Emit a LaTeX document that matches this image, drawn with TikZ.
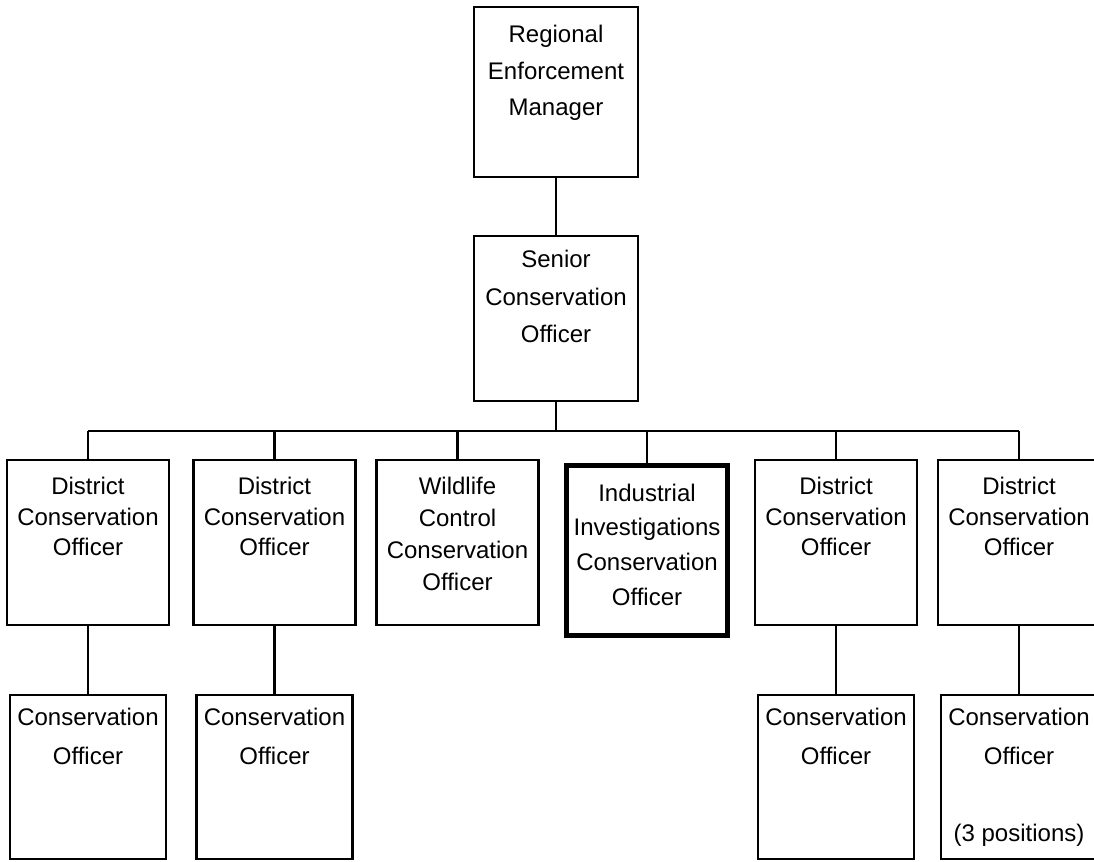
\documentclass[tikz,border=0pt]{standalone}
\usepackage{fontspec}
\setmainfont{Liberation Sans}
\usepackage{tikz}
\usetikzlibrary{positioning}

\tikzset{
    post/.style={draw, line width=2pt, inner sep=0pt, minimum width=121.5pt, minimum height=123.75pt},
    lbl/.style={anchor=north, inner sep=0pt, align=center, yshift=-#1},
    link/.style={line width=2pt}
}

\begin{document}
\begin{tikzpicture}[x=0.75pt,y=0.75pt,yscale=-1,xscale=1]
        \useasboundingbox (0,0) rectangle (1094,861);
        % top of the chart
        \node[post, minimum width=123pt, minimum height=127.5pt,
            label={[lbl=14.5pt, font=\fontsize{18}{27.5}\selectfont]north:{Regional\\Enforcement\\Manager}}] (rem) at (556,92) {};
        \node[post, minimum width=123pt,
            label={[lbl=11.5pt, font=\fontsize{18}{28}\selectfont]north:{Senior\\Conservation\\Officer}}] (sco) at (556,318.5) {};
        \coordinate (bus) at (556,431);
        % second row
        \node[post, label={[lbl=13.5pt, font=\fontsize{18}{23}\selectfont]north:{District\\Conservation\\Officer}}] (dco1) at (88,542.5) {};
        \node[post, label={[lbl=13.5pt, font=\fontsize{18}{23}\selectfont]north:{District\\Conservation\\Officer}}] (dco2) at (274.5,542.5) {};
        \node[post, label={[lbl=13.5pt, font=\fontsize{18}{24}\selectfont]north:{Wildlife\\Control\\Conservation\\Officer}}] (wcco) at (457.5,542.5) {};
        \node[post, line width=4pt, minimum width=120.5pt, minimum height=127.3pt,
            label={[lbl=15.5pt, font=\fontsize{18}{26}\selectfont]north:{Industrial\\Investigations\\Conservation\\Officer}}] (iico) at (647,550.5) {};
        \node[post, label={[lbl=13.5pt, font=\fontsize{18}{23}\selectfont]north:{District\\Conservation\\Officer}}] (dco3) at (836,542.5) {};
        \node[post, label={[lbl=13.5pt, font=\fontsize{18}{23}\selectfont]north:{District\\Conservation\\Officer}}] (dco4) at (1019,542.5) {};
        % third row
        \node[post, minimum width=117pt, minimum height=123pt,
            label={[lbl=10.5pt, font=\fontsize{18}{29}\selectfont]north:{Conservation\\Officer}}] (co1) at (88,777) {};
        \node[post, minimum width=117pt, minimum height=123pt,
            label={[lbl=10.5pt, font=\fontsize{18}{29}\selectfont]north:{Conservation\\Officer}}] (co2) at (274.5,777) {};
        \node[post, minimum width=117pt, minimum height=123pt,
            label={[lbl=10.5pt, font=\fontsize{18}{29}\selectfont]north:{Conservation\\Officer}}] (co3) at (836,777) {};
        \node[post, minimum width=117pt, minimum height=123pt,
            label={[lbl=10.5pt, font=\fontsize{18}{29}\selectfont]north:{Conservation\\Officer\\~\\(3 positions)}}] (co4) at (1019,777) {};
        % connectors
        \draw[link] (rem) -- (sco);
        \draw[link] (sco) -- (bus);
        \draw[link] (dco1.north |- bus) -- (dco4.north |- bus);
        \foreach \n in {dco1,dco2,wcco,iico,dco3,dco4}
            \draw[link] (\n) -- (\n.north |- bus);
        \foreach \n in {1,2,3,4}
            \draw[link] (dco\n) -- (co\n);
\end{tikzpicture}
\end{document}
